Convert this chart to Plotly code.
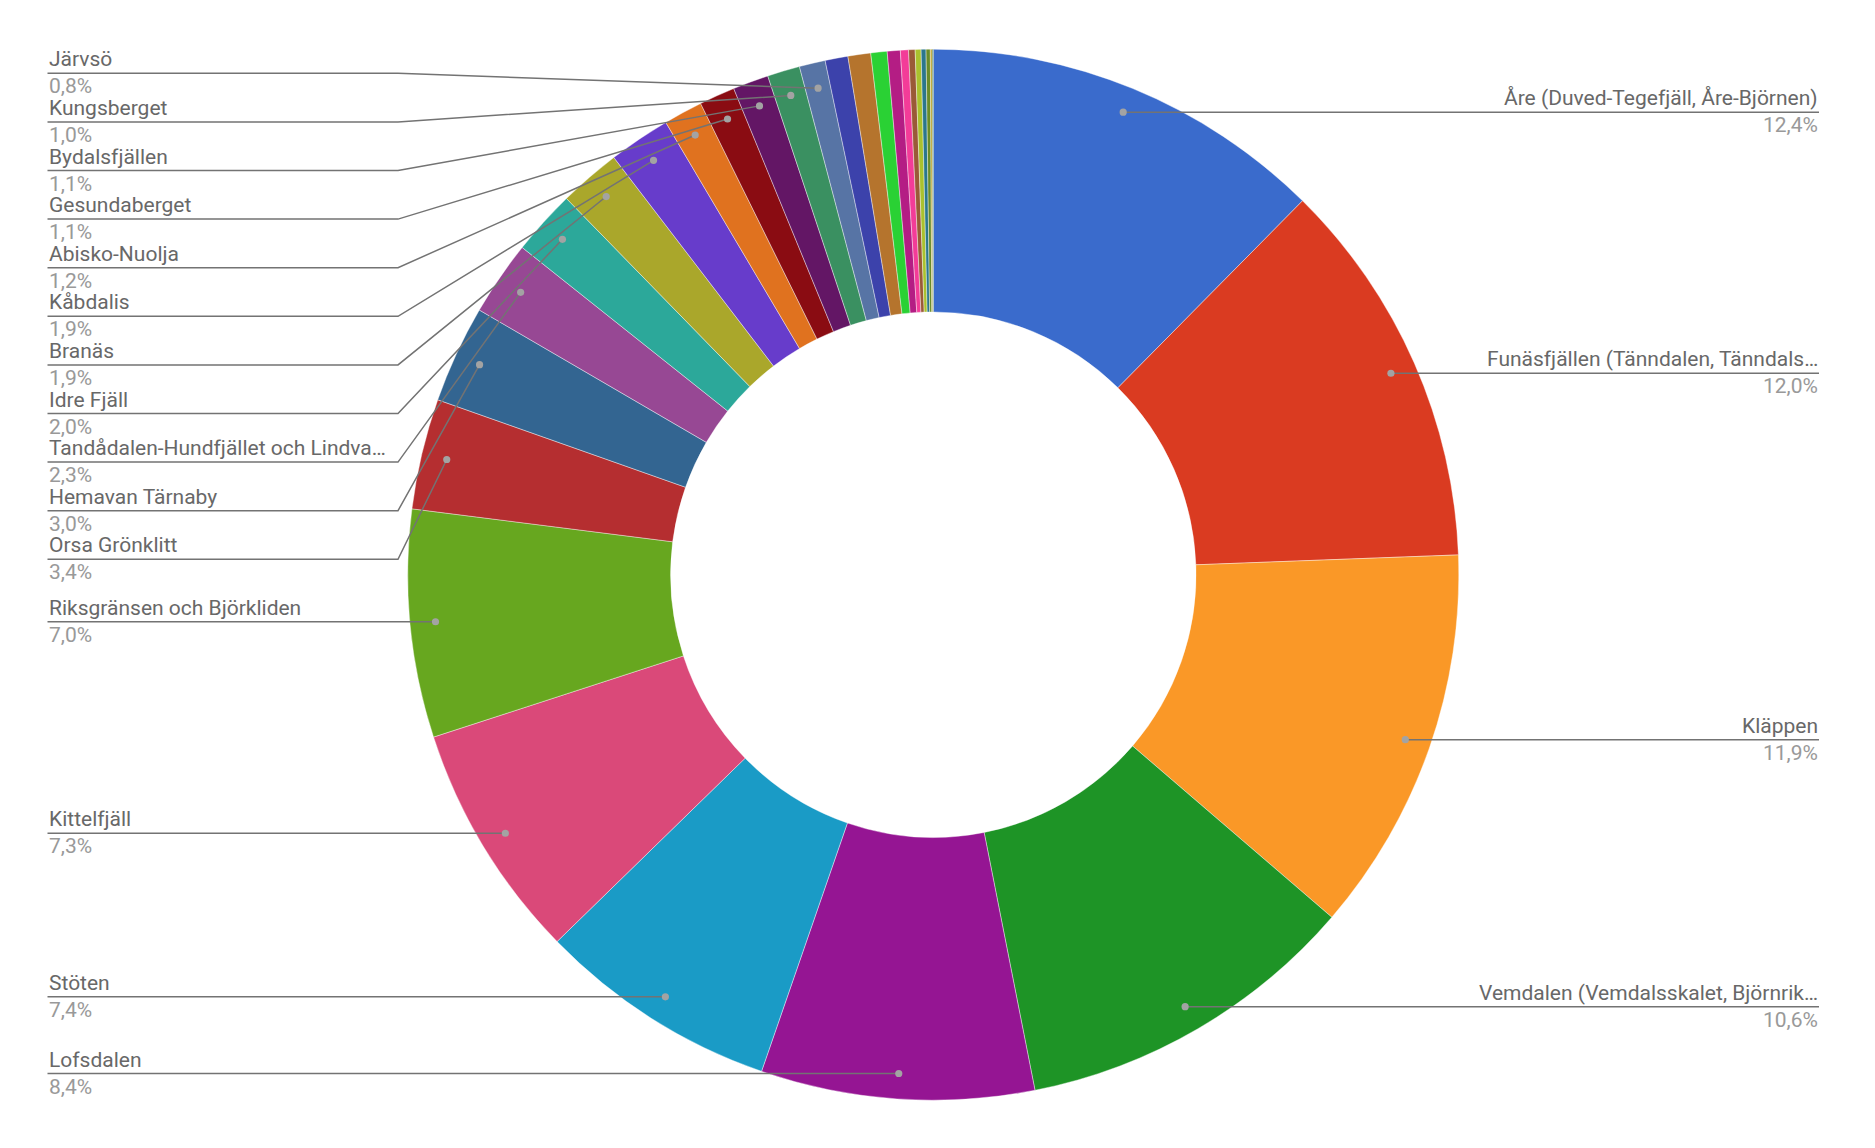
import math
import plotly.graph_objects as go

# Skidorter, medurs från kl 12 (andel i procent)
orter = [
    "Åre (Duved-Tegefjäll, Åre-Björnen)",
    "Funäsfjällen (Tänndalen, Tänndalsvallen, Ramundberget, Bruksvallarna, Fjällnäs)",
    "Kläppen",
    "Vemdalen (Vemdalsskalet, Björnrike, Klövsjö-Storhogna)",
    "Lofsdalen",
    "Stöten",
    "Kittelfjäll",
    "Riksgränsen och Björkliden",
    "Orsa Grönklitt",
    "Hemavan Tärnaby",
    "Tandådalen-Hundfjället och Lindvallen-Högfjället",
    "Idre Fjäll",
    "Branäs",
    "Kåbdalis",
    "Abisko-Nuolja",
    "Gesundaberget",
    "Bydalsfjällen",
    "Kungsberget",
    "Järvsö",
    "Romme Alpin",
    "Storlien",
    "Dundret",
    "Hassela",
    "Bjursås",
    "Isaberg",
    "Sunne",
    "Ulricehamn",
    "Vallåsen",
    "Åsarna",
    "Borgafjäll",
]
andelar = [12.4, 12.0, 11.9, 10.6, 8.4, 7.4, 7.3, 7.0, 3.4, 3.0, 2.3, 2.0, 1.9, 1.9,
           1.2, 1.1, 1.1, 1.0, 0.8,
           0.7, 0.7, 0.5, 0.4, 0.25, 0.2, 0.18, 0.15, 0.13, 0.06, 0.03]

# färger som i bilden (google-paletten)
farger = ["#3a6bcc", "#da3b21", "#fa9827", "#1e9426", "#951593", "#1a9bc6", "#da4979",
          "#67a71f", "#b52e30", "#336591", "#974894", "#2ca89a", "#aaa72b", "#673ccb",
          "#e0721f", "#8a0c12", "#631665", "#3a9061", "#5774a5", "#3c42ab", "#b5742d",
          "#2ad134", "#b41d84", "#f33c98", "#9a5a37", "#aac12e", "#2b778c", "#6a8c28",
          "#bca32a", "#1a5a2a"]

# geometri i skärmpixlar (sidan har 8 px marginal)
OFF = 8
W, H = 1875 - 2 * OFF, 1148 - 2 * OFF
CX, CY = 933.3, 574.7
R = 525.5
R_DOT = 500
LEFT_X, RIGHT_X = 47.5, 1819
LEFT_ELBOW = 398
RIGHT_ELBOW = 2 * CX - LEFT_ELBOW
GAP = 48.6
Y_MIN, Y_MAX = 73.3, 1085
MIN_LABEL = 0.8
MAX_CHARS = 34
FS = 21


def kort(namn):
    if len(namn) > MAX_CHARS:
        return namn[:MAX_CHARS - 1] + "…"
    return namn


def sprid(ideal):
    # ideal: lista av (y, index) sorterad, ger y per index utan överlapp
    kluster = []
    for y, i in ideal:
        kluster.append([[i], [y], y])
        while len(kluster) > 1:
            a, b = kluster[-2], kluster[-1]
            if a[2] + len(a[0]) * GAP <= b[2]:
                break
            idx = a[0] + b[0]
            ys = a[1] + b[1]
            n = len(idx)
            top = sum(ys) / n - (n - 1) / 2 * GAP
            top = max(Y_MIN, min(top, Y_MAX - (n - 1) * GAP))
            kluster[-2:] = [[idx, ys, top]]
    res = {}
    for idx, ys, top in kluster:
        for k, i in enumerate(idx):
            res[i] = top + k * GAP
    return res


total = sum(andelar)
mitt = []
s = 0
for v in andelar:
    mitt.append((s + v / 2) / total)
    s += v

punkter = []
for m in mitt:
    a = 2 * math.pi * m
    punkter.append((CX + R_DOT * math.sin(a), CY - R_DOT * math.cos(a)))

vanster = sorted([(punkter[i][1], i) for i in range(len(andelar))
                  if andelar[i] >= MIN_LABEL and mitt[i] > 0.5])
hoger = sorted([(punkter[i][1], i) for i in range(len(andelar))
                if andelar[i] >= MIN_LABEL and mitt[i] <= 0.5])
ly = {}
ly.update(sprid(vanster))
ly.update(sprid(hoger))

fig = go.Figure()
fig.add_trace(go.Pie(
    labels=orter, values=andelar, hole=0.5, sort=False, direction="clockwise",
    marker=dict(colors=farger, line=dict(color="white", width=0.4)),
    textinfo="none", showlegend=False,
    domain=dict(x=[(CX - R - OFF) / W, (CX + R - OFF) / W],
                y=[1 - (CY + R - OFF) / H, 1 - (CY - R - OFF) / H]),
    hovertemplate="%{label}<br>%{percent}<extra></extra>",
))
# tom trace så att axlarna finns
fig.add_trace(go.Scatter(x=[], y=[], showlegend=False, hoverinfo="skip"))

shapes = []
annots = []
for i, y in ly.items():
    px, py = punkter[i]
    pct = f"{andelar[i] / total * 100:.1f}".replace(".", ",") + "%"
    if mitt[i] > 0.5:
        x0, xe, anchor = LEFT_X, LEFT_ELBOW, "left"
    else:
        x0, xe, anchor = RIGHT_X, RIGHT_ELBOW, "right"
    shapes.append(dict(type="path", xref="x", yref="y", layer="above",
                       path=f"M {x0},{y} L {xe},{y} L {px},{py}",
                       line=dict(color="#737373", width=1.5)))
    shapes.append(dict(type="circle", xref="x", yref="y", layer="above",
                       x0=px - 3.6, x1=px + 3.6, y0=py - 3.6, y1=py + 3.6,
                       fillcolor="#a3a3a3", line=dict(width=0)))
    annots.append(dict(x=x0, y=y, xref="x", yref="y", text=kort(orter[i]),
                       xanchor=anchor, yanchor="bottom", showarrow=False, align=anchor,
                       font=dict(family="Roboto", size=FS, color="#686868"),
                       borderpad=0, yshift=1))
    annots.append(dict(x=x0, y=y, xref="x", yref="y", text=pct,
                       xanchor=anchor, yanchor="top", showarrow=False, align=anchor,
                       font=dict(family="Roboto", size=FS, color="#999999"),
                       borderpad=0))

fig.update_layout(
    width=W, height=H,
    margin=dict(l=0, r=0, t=0, b=0),
    paper_bgcolor="white", plot_bgcolor="white",
    xaxis=dict(range=[OFF, OFF + W], visible=False, fixedrange=True),
    yaxis=dict(range=[OFF + H, OFF], visible=False, fixedrange=True),
    shapes=shapes, annotations=annots,
    font=dict(family="Roboto"),
)

fig.write_html("out.html")
